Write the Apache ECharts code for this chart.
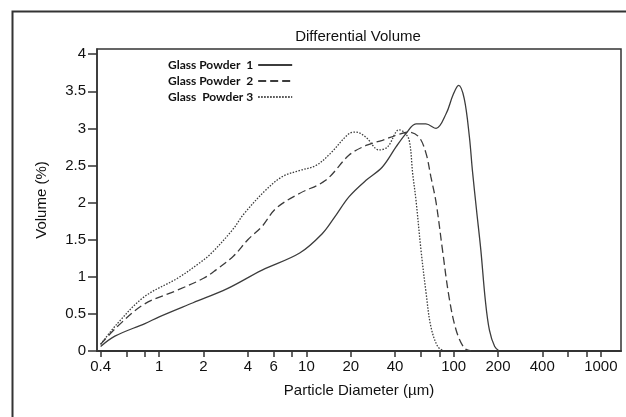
<!DOCTYPE html>
<html>
<head>
<meta charset="utf-8">
<script src="https://cdn.jsdelivr.net/npm/echarts@6/dist/echarts.min.js"></script>
<style>
html,body{margin:0;padding:0;background:#fff;}
#chart{width:626px;height:417px;}
</style>
</head>
<body>
<div id="chart"></div>
<script>
// ---- data ----
var seriesNames = ['Glass Powder  1', 'Glass Powder  2', 'Glass  Powder 3'];

var gp1Size = [0.4, 0.5, 0.8, 1.0, 1.7, 2.9, 5.0, 9.0, 12.8, 15.5, 19.5, 25.4, 32.8, 40.6, 47.4, 55.5, 64.7, 76, 89, 99, 108, 118, 128, 134, 143, 153, 164, 175, 190, 204];
var gp1Vol  = [0.06, 0.20, 0.37, 0.46, 0.65, 0.84, 1.09, 1.32, 1.58, 1.80, 2.08, 2.30, 2.48, 2.75, 2.93, 3.06, 3.06, 3.00, 3.20, 3.45, 3.58, 3.40, 2.88, 2.44, 1.90, 1.36, 0.69, 0.28, 0.06, 0.0];

var gp2Size = [0.4, 0.52, 0.79, 1.33, 2.0, 2.42, 3.2, 4.0, 5.0, 6.2, 8.9, 13.5, 19.5, 25.4, 32.8, 42.6, 49.9, 58.3, 65, 70, 76, 84, 93, 104, 118, 131];
var gp2Vol  = [0.09, 0.33, 0.63, 0.82, 0.98, 1.09, 1.28, 1.50, 1.68, 1.92, 2.12, 2.30, 2.64, 2.77, 2.84, 2.92, 2.95, 2.88, 2.66, 2.35, 2.00, 1.36, 0.73, 0.28, 0.04, 0.0];

var gp3Size = [0.4, 0.52, 0.79, 1.33, 1.86, 2.24, 3.14, 3.77, 5.3, 6.86, 8.9, 11.6, 14.5, 19.5, 21.7, 25.4, 31.1, 35.6, 42.6, 46, 49.9, 52.7, 55.5, 60, 65, 70, 78, 86];
var gp3Vol  = [0.09, 0.37, 0.73, 0.98, 1.18, 1.31, 1.63, 1.85, 2.17, 2.35, 2.43, 2.50, 2.66, 2.93, 2.95, 2.88, 2.71, 2.75, 2.98, 2.95, 2.84, 2.39, 2.03, 1.36, 0.78, 0.33, 0.06, 0.0];

var xTickValues  = [0.4, 0.6, 0.8, 1, 2, 4, 6, 8, 10, 20, 40, 60, 80, 100, 200, 400, 600, 800, 1000];
var xLabelValues = [0.4, 1, 2, 4, 6, 10, 20, 40, 100, 200, 400, 1000];
var yTickValues  = [0, 0.5, 1, 1.5, 2, 2.5, 3, 3.5, 4];

function pairs(xs, ys) { return xs.map(function (x, i) { return [x, ys[i]]; }); }

var lineColor = '#3c3c3c';
var dashTypes = ['solid', [8, 4], [1.5, 1.5]];
var sizes = [gp1Size, gp2Size, gp3Size];
var vols = [gp1Vol, gp2Vol, gp3Vol];

var chart = echarts.init(document.getElementById('chart'), null, {renderer: 'canvas'});
var font = '"Liberation Sans", Arial, sans-serif';

var option = {
  backgroundColor: '#fff',
  animation: false,
  title: {
    text: 'Differential Volume',
    left: 358, top: 29, padding: 0,
    textAlign: 'center',
    textStyle: {fontFamily: font, fontSize: 15, fontWeight: 'normal', color: '#111'}
  },
  graphic: [{
    type: 'rect', left: 10, top: 9, z: -1,
    shape: {width: 700, height: 500},
    style: {fill: 'none', stroke: '#333', lineWidth: 2}
  }],
  legend: {
    orient: 'vertical',
    left: 163, top: 54,
    align: 'right',
    itemGap: 4,
    itemWidth: 34, itemHeight: 10,
    itemStyle: {opacity: 0},
    textStyle: {fontFamily: 'Lato, sans-serif', fontWeight: 'bold', fontSize: 12, color: '#111', width: 88},
    data: seriesNames
  },
  grid: {
    left: 97, right: 5, top: 49, bottom: 66,
    show: true, borderColor: '#333', borderWidth: 1.5
  },
  xAxis: {
    type: 'log', logBase: 10,
    min: 0.378, max: 1370,
    name: 'Particle Diameter (µm)',
    nameLocation: 'middle', nameGap: 32,
    nameTextStyle: {fontFamily: font, fontSize: 15, color: '#111'},
    axisLine: {show: true, lineStyle: {color: '#333', width: 2}},
    axisTick: {show: true, inside: false, length: 6, customValues: xTickValues, lineStyle: {color: '#333', width: 1.5}},
    axisLabel: {customValues: xLabelValues, fontFamily: font, fontSize: 15, color: '#111', margin: 8,
      formatter: function (v) { return String(v); }},
    splitLine: {show: false},
    minorTick: {show: false}
  },
  yAxis: {
    type: 'value', min: 0, max: 4.07,
    name: 'Volume (%)',
    nameLocation: 'middle', nameGap: 48,
    nameTextStyle: {fontFamily: font, fontSize: 15, color: '#111'},
    axisLine: {show: true, lineStyle: {color: '#333', width: 1.5}},
    axisTick: {show: true, inside: false, length: 9, customValues: yTickValues, lineStyle: {color: '#333', width: 1.5}},
    axisLabel: {customValues: yTickValues, fontFamily: font, fontSize: 15, color: '#111', margin: 11},
    splitLine: {show: false}
  },
  series: seriesNames.map(function (name, i) {
    return {
      name: name,
      type: 'line',
      symbol: 'none',
      smooth: 0.35,
      data: pairs(sizes[i], vols[i]),
      lineStyle: {color: lineColor, width: 1.3, type: dashTypes[i]},
      itemStyle: {color: lineColor}
    };
  })
};
chart.setOption(option);
</script>
</body>
</html>
